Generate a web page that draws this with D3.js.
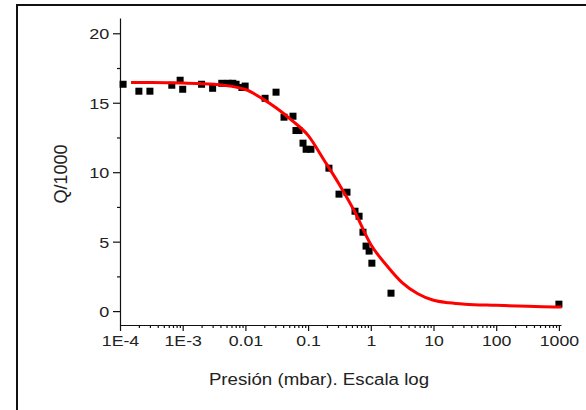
<!DOCTYPE html>
<html><head><meta charset="utf-8">
<script src="https://cdn.jsdelivr.net/npm/d3@7"></script>
<style>body{margin:0;background:#fff;}svg{display:block;font-family:"Liberation Sans",Arial,sans-serif;}</style>
</head><body>
<script>
// Measured data points (pressure in mbar, Q/1000)
const pressure = [1.12e-4,2.0e-4,3.0e-4,6.7e-4,9.1e-4,1.0e-3,2.0e-3,3.0e-3,4.2e-3,5.3e-3,6.3e-3,7.1e-3,8.8e-3,9.9e-3,
  0.0206,0.0308,0.0413,0.0574,0.064,0.0716,0.083,0.093,0.111,0.215,0.311,0.417,0.56,0.65,0.75,0.84,0.94,1.04,2.1,1000];
const qValues = [16.33,15.83,15.83,16.26,16.62,15.97,16.33,16.04,16.40,16.40,16.40,16.33,16.1,16.2,
  15.32,15.76,13.96,14.03,13.0,13.0,12.09,11.65,11.65,10.29,8.42,8.56,7.19,6.83,5.68,4.68,4.32,3.45,1.29,0.5];
// Fitted curve
const fitPressure = [1.5e-4,3.16e-4,1e-3,3.16e-3,1e-2,1.78e-2,3.16e-2,5.62e-2,0.1,0.178,0.316,0.562,1,1.78,3.16,5.62,10,17.8,31.6,100,316,1000,1100];
const fitQ = [16.45,16.45,16.42,16.33,15.95,15.35,14.6,13.7,12.65,10.9,9.1,7.1,4.8,3.3,2.05,1.25,0.78,0.6,0.5,0.42,0.35,0.3,0.3];
const xTickValues = [1e-4,1e-3,1e-2,1e-1,1,10,100,1000];
const xTickLabels = ["1E-4","1E-3","0.01","0.1","1","10","100","1000"];
const yTickValues = [0,5,10,15,20];
const yMinorValues = [2.5,7.5,12.5,17.5];

const W=586,H=410;
const svg=d3.select("body").append("svg").attr("width",W).attr("height",H);
// frame
svg.append("path").attr("d","M17,410 L17,5 L586,5").attr("fill","none").attr("stroke","#111").attr("stroke-width",2);

const x=d3.scaleLog().domain([1e-4,1080]).range([120,561]);
const y=d3.scaleLinear().domain([-1,21.1]).range([325,18]);

// x axis
const xMinor=[];
for(let e=-4;e<=3;e++){for(let m=2;m<=9;m++){const v=m*Math.pow(10,e); if(v<=1080) xMinor.push(v);}}
const gx=svg.append("g").attr("transform","translate(0,325)");
gx.call(d3.axisBottom(x).tickValues(xMinor).tickSize(3).tickFormat(""));
gx.call(g=>g.select(".domain").remove());
const gx2=svg.append("g").attr("transform","translate(0,325)");
gx2.call(d3.axisBottom(x).tickValues(xTickValues).tickSize(6).tickSizeOuter(0).tickFormat((d,i)=>xTickLabels[i]));
gx2.selectAll("text").attr("font-size",15).attr("fill","#222").attr("y",21).attr("dy",0)
  .attr("transform","scale(1.18,1)").attr("font-family","Liberation Sans, Arial, sans-serif");

// y axis
const gy=svg.append("g").attr("transform","translate(120,0)");
gy.call(d3.axisLeft(y).tickValues(yMinorValues).tickSize(3).tickFormat(""));
gy.call(g=>g.select(".domain").remove());
const gy2=svg.append("g").attr("transform","translate(120,0)");
gy2.call(d3.axisLeft(y).tickValues(yTickValues).tickSize(7).tickSizeOuter(0));
gy2.selectAll("text").attr("font-size",15).attr("fill","#222").attr("x",-9).attr("dy","0.36em")
  .attr("transform","scale(1.2,1)").attr("font-family","Liberation Sans, Arial, sans-serif");
svg.selectAll(".domain, .tick line").attr("stroke","#111").attr("stroke-width",1.2);

// points
svg.append("g").selectAll("rect").data(pressure).join("rect")
  .attr("x",(d)=>x(d)-3.5).attr("y",(d,i)=>y(qValues[i])-3.5).attr("width",7).attr("height",7).attr("fill","#000");

// fit curve
const line=d3.line().x((d,i)=>x(fitPressure[i])).y((d,i)=>y(fitQ[i])).curve(d3.curveMonotoneX);
svg.append("path").datum(fitPressure).attr("d",line).attr("fill","none").attr("stroke","#ff0000").attr("stroke-width",3);

// labels
svg.append("text").attr("transform","translate(319,385) scale(1.1,1)").attr("text-anchor","middle").attr("font-size",17).attr("fill","#222").text("Presión (mbar). Escala log");
svg.append("text").attr("transform","translate(67,174) rotate(-90)").attr("text-anchor","middle").attr("font-size",18).attr("fill","#222").text("Q/1000");
</script>
</body></html>
